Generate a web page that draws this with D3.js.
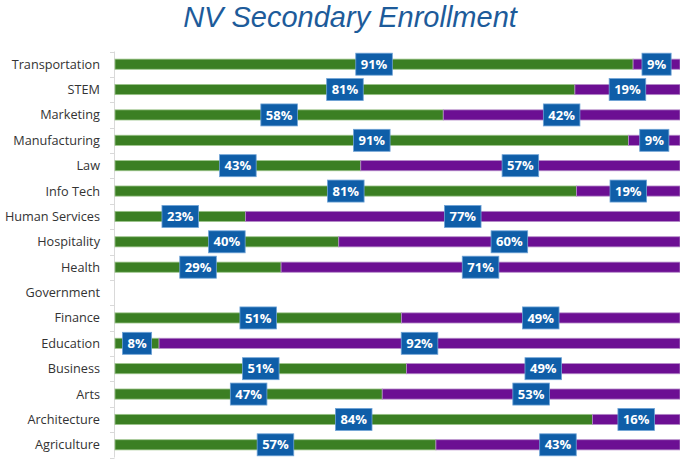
<!DOCTYPE html>
<html>
<head>
<meta charset="utf-8">
<script src="https://cdn.jsdelivr.net/npm/d3@7"></script>
<style>
  body { margin: 0; background: #fff; }
  svg { display: block; }
</style>
</head>
<body>
<div id="chart"></div>
<script>
// ===== DATA =====
const categories = ['Transportation', 'STEM', 'Marketing', 'Manufacturing', 'Law', 'Info Tech',
  'Human Services', 'Hospitality', 'Health', 'Government', 'Finance', 'Education',
  'Business', 'Arts', 'Architecture', 'Agriculture'];
// green share as drawn, null = no data
const greenShare = [91.7, 81.4, 58.1, 90.9, 43.5, 81.7, 23.1, 39.6, 29.4, null, 50.7, 7.8, 51.6, 47.3, 84.5, 56.8];
const greenLabels = ['91%', '81%', '58%', '91%', '43%', '81%', '23%', '40%', '29%', null, '51%', '8%', '51%', '47%', '84%', '57%'];
const purpleLabels = ['9%', '19%', '42%', '9%', '57%', '19%', '77%', '60%', '71%', null, '49%', '92%', '49%', '53%', '16%', '43%'];

const W = 680, H = 461;
const colors = { green: '#3b7f23', purple: '#6c0f93', box: '#0f5ea8', title: '#1d5b9a' };

const svg = d3.select('#chart').append('svg').attr('width', W).attr('height', H);

svg.append('text')
  .attr('x', 350).attr('y', 27)
  .attr('text-anchor', 'middle')
  .style('font-family', '"Liberation Sans", Arial, sans-serif')
  .style('font-style', 'italic')
  .style('font-size', '29px')
  .attr('fill', colors.title)
  .text('NV Secondary Enrollment');

const x = d3.scaleLinear().domain([0, 100]).range([115, 680]);
const y = d3.scaleBand().domain(categories).range([51.5, 457.5]).paddingInner(0.6).paddingOuter(0.3);

// axis with ticks at band boundaries
const axisG = svg.append('g');
axisG.append('line')
  .attr('x1', 114.5).attr('x2', 114.5)
  .attr('y1', 51.5).attr('y2', 457.5)
  .attr('stroke', '#d9d9d9');
d3.range(categories.length + 1).forEach(i => {
  const yy = Math.round(51.5 + i * (406 / categories.length)) + 0.5;
  axisG.append('line')
    .attr('x1', 110).attr('x2', 114.5)
    .attr('y1', yy).attr('y2', yy)
    .attr('stroke', '#d9d9d9');
});

// category labels
svg.append('g').selectAll('text')
  .data(categories)
  .join('text')
  .attr('x', 100)
  .attr('y', d => y(d) + y.bandwidth() / 2)
  .attr('dy', '0.35em')
  .attr('text-anchor', 'end')
  .style('font-family', '"Open Sans", sans-serif')
  .style('font-size', '12.7px')
  .attr('fill', '#333')
  .text(d => d);

const rows = categories.map((c, i) => ({ c, g: greenShare[i], gl: greenLabels[i], pl: purpleLabels[i] }))
  .filter(d => d.g !== null);

const bars = svg.append('g');
bars.selectAll('rect.green')
  .data(rows).join('rect')
  .attr('class', 'green')
  .attr('x', x(0))
  .attr('y', d => y(d.c))
  .attr('width', d => x(d.g) - x(0))
  .attr('height', y.bandwidth())
  .attr('fill', colors.green)
  .attr('stroke', '#9cc48a').attr('stroke-width', 0.8);
bars.selectAll('rect.purple')
  .data(rows).join('rect')
  .attr('class', 'purple')
  .attr('x', d => x(d.g))
  .attr('y', d => y(d.c))
  .attr('width', d => x(100) - x(d.g))
  .attr('height', y.bandwidth())
  .attr('fill', colors.purple)
  .attr('stroke', '#b48ac8').attr('stroke-width', 0.8);

// data label boxes
const labels = [];
rows.forEach(d => {
  labels.push({ c: d.c, cx: (x(0) + x(d.g)) / 2, t: d.gl });
  labels.push({ c: d.c, cx: (x(d.g) + x(100)) / 2, t: d.pl });
});

const lg = svg.append('g').selectAll('g').data(labels).join('g');
lg.append('text')
  .attr('x', d => d.cx)
  .attr('y', d => y(d.c) + y.bandwidth() / 2)
  .attr('dy', '0.36em')
  .attr('text-anchor', 'middle')
  .style('font-family', '"Open Sans", sans-serif')
  .style('font-weight', 'bold')
  .style('font-size', '13px')
  .attr('fill', '#fff')
  .text(d => d.t);
lg.insert('rect', 'text')
  .each(function (d) {
    const w = this.parentNode.querySelector('text').getComputedTextLength() + 10;
    d3.select(this)
      .attr('x', d.cx - w / 2)
      .attr('y', y(d.c) + y.bandwidth() / 2 - 11)
      .attr('width', w)
      .attr('height', 22);
  })
  .attr('fill', colors.box)
  .attr('stroke', '#6fa3d6').attr('stroke-width', 0.8);
</script>
</body>
</html>
